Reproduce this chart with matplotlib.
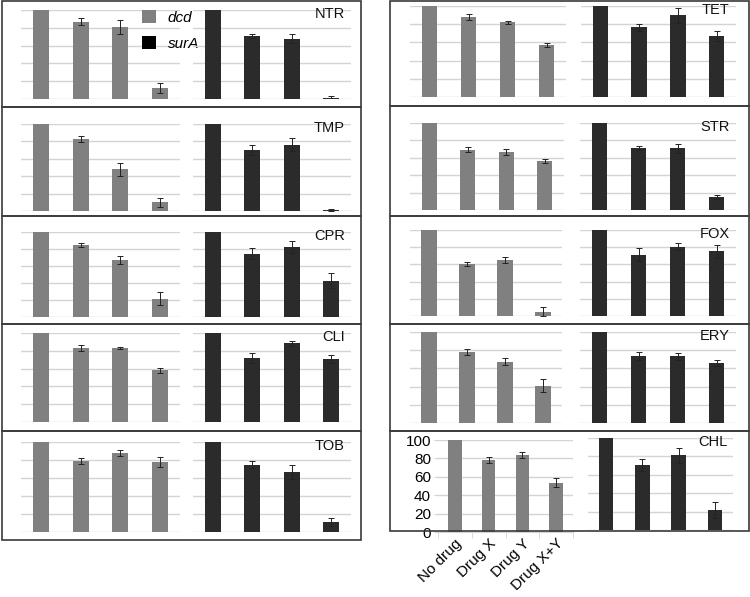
import numpy as np
import matplotlib
matplotlib.use("Agg")
from matplotlib import pyplot as plt
from matplotlib.patches import Rectangle, Patch

plt.rcParams['font.family'] = ['Liberation Sans', 'DejaVu Sans']

drugs = ["No drug", "Drug X", "Drug Y", "Drug X+Y"]
antibiotics = ["NTR", "TMP", "CPR", "CLI", "TOB", "TET", "STR", "FOX", "ERY", "CHL"]

# % of no-drug value
dcd_mean = [[100, 86.6, 81.0, 12.3],
            [100, 82.8, 48.0, 10.0],
            [100, 84.6, 67.0, 21.7],
            [100, 83.0, 82.7, 58.0],
            [100, 79.0, 87.4, 77.8],
            [100, 87.5, 82.0, 57.0],
            [100, 69.3, 67.0, 56.0],
            [100, 60.5, 65.0, 5.0],
            [100, 78.0, 67.4, 41.0],
            [100, 78.5, 83.6, 53.8]]
dcd_err = [[0, 4.0, 7.5, 6.0],
           [0, 3.8, 7.5, 5.5],
           [0, 2.4, 5.0, 8.0],
           [0, 3.4, 1.1, 2.6],
           [0, 3.1, 3.3, 6.0],
           [0, 3.3, 2.0, 2.2],
           [0, 2.7, 3.3, 2.5],
           [0, 2.7, 3.5, 5.0],
           [0, 3.1, 4.0, 7.0],
           [0, 3.0, 3.3, 5.0]]
sura_mean = [[100, 70.9, 67.9, 1.1],
             [100, 70.0, 76.0, 1.2],
             [100, 74.7, 82.5, 42.8],
             [100, 71.9, 88.5, 70.4],
             [100, 75.0, 66.5, 10.7],
             [100, 76.5, 89.7, 67.0],
             [100, 71.3, 71.0, 15.0],
             [100, 71.5, 80.8, 75.4],
             [100, 73.8, 73.4, 66.0],
             [100, 70.7, 81.0, 21.7]]
sura_err = [[0, 2.6, 4.8, 2.5],
            [0, 6.0, 7.5, 1.0],
            [0, 7.0, 7.0, 9.0],
            [0, 5.2, 3.0, 4.4],
            [0, 4.2, 7.4, 4.4],
            [0, 3.7, 8.0, 6.0],
            [0, 2.3, 5.0, 2.3],
            [0, 7.7, 4.6, 7.5],
            [0, 4.6, 3.7, 3.3],
            [0, 6.3, 7.8, 8.5]]

W, H = 750, 597
GRAY = "#808080"
DARK = "#2b2b2b"
GRID = "#d4d4d4"


def rect(x0, x1, y0, y1):
    # pixel box (top-left origin) -> figure fraction
    return [x0 / W, 1 - y1 / H, (x1 - x0) / W, (y1 - y0) / H]


# axes layout in pixels: (gray x, dark x, gray y, dark y)
layout = [
    ((21, 180), (193, 351), (10, 99), (10, 99)),
    ((21, 180), (193, 351), (124, 211), (124, 211)),
    ((21, 180), (193, 351), (232, 317), (232, 317)),
    ((21, 180), (193, 351), (333, 422), (333, 422)),
    ((21, 180), (193, 351), (442, 532), (442, 532)),
    ((410, 566), (581, 736), (6, 97), (6, 97)),
    ((410, 564), (580, 736), (123, 210), (123, 210)),
    ((410, 562), (580, 736), (230, 316), (230, 316)),
    ((410, 562), (580, 736), (332, 423), (332, 423)),
    ((438, 573), (588, 733), (440, 532), (438, 530)),
]

fig = plt.figure(figsize=(W / 100, H / 100), dpi=100)

# boxes around each row
left_rows = [1, 107, 216, 324, 431, 540]
right_rows = [1, 106, 216, 324, 431, 531]
for x0, x1, rows in [(2, 361, left_rows), (390, 749, right_rows)]:
    for i in range(5):
        r = rect(x0, x1, rows[i], rows[i + 1])
        fig.patches.append(Rectangle((r[0], r[1]), r[2], r[3], transform=fig.transFigure,
                                     fill=False, edgecolor="#3a3a3a", linewidth=1.2, zorder=5))

x = np.arange(len(drugs))


def draw(ax, means, errs, color):
    ax.set_axisbelow(True)
    ax.bar(x, means, width=0.4, color=color, clip_on=False, zorder=2)
    errs = np.array(errs)
    m = errs > 0
    ax.errorbar(x[m], np.array(means)[m], yerr=errs[m], fmt="none", ecolor="#222222",
                elinewidth=0.7, capsize=2.2, capthick=0.7, zorder=3)
    ax.set_xlim(-0.5, 3.5)
    ax.set_ylim(0, 100)
    ax.set_yticks([0, 20, 40, 60, 80, 100])
    ax.yaxis.grid(True, color=GRID, linewidth=1)
    for s in ax.spines.values():
        s.set_visible(False)
    ax.tick_params(left=False, bottom=False, labelleft=False, labelbottom=False)
    ax.patch.set_alpha(0)


for i, name in enumerate(antibiotics):
    gx, dx, gy, dy = layout[i]
    ax1 = fig.add_axes(rect(gx[0], gx[1], gy[0], gy[1]))
    ax2 = fig.add_axes(rect(dx[0], dx[1], dy[0], dy[1]))
    draw(ax1, dcd_mean[i], dcd_err[i], GRAY)
    draw(ax2, sura_mean[i], sura_err[i], DARK)
    ax2.text(0.96, 1.03, name, transform=ax2.transAxes, ha="right", va="top",
             fontsize=10.5, color="#111111", zorder=6)
    if i == 0:
        handles = [Patch(facecolor=GRAY, edgecolor="none", label="dcd"),
                   Patch(facecolor="black", edgecolor="none", label="surA")]
        leg = ax1.legend(handles=handles, loc="upper left", bbox_to_anchor=(0.76, 1.0),
                         frameon=False, fontsize=11, handlelength=0.9, handleheight=0.9,
                         handletextpad=0.8, labelspacing=0.75, borderpad=0, borderaxespad=0)
        for t in leg.get_texts():
            t.set_fontstyle("italic")
    if i == len(antibiotics) - 1:
        ax1.tick_params(left=True, labelleft=True, length=3, color=GRID, labelsize=11,
                        pad=2)
        ax1.spines["bottom"].set_visible(True)
        ax1.spines["bottom"].set_color(GRID)
        ax1.set_xticks(x)
        ax1.set_xticklabels(drugs, rotation=45, ha="right", rotation_mode="anchor",
                            fontsize=11)
        ax1.tick_params(axis="x", bottom=False, labelbottom=True, pad=0)
        ax1.set_xticks([-0.5, 0.5, 1.5, 2.5, 3.5], minor=True)
        ax1.tick_params(axis="x", which="minor", bottom=True, length=4, color=GRID)

fig.savefig("out.png", dpi=100)
